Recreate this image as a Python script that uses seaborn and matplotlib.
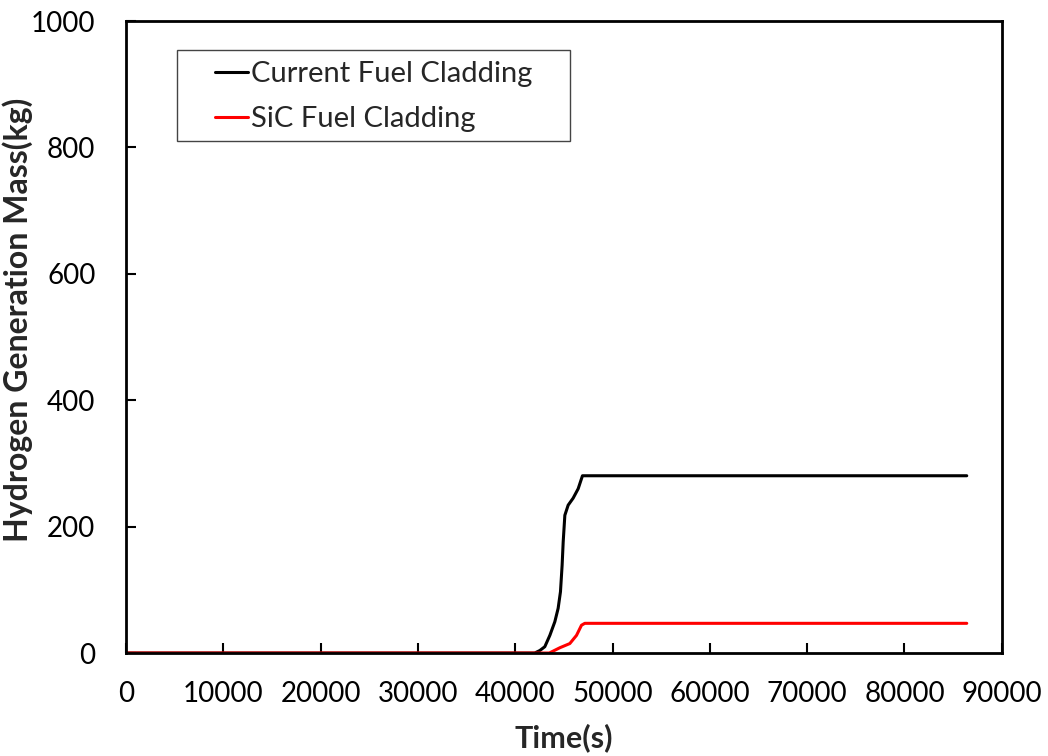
import numpy as np
import pandas as pd
import matplotlib
matplotlib.use('Agg')
import matplotlib.pyplot as plt
from matplotlib.patches import Rectangle
import seaborn as sns

# Hydrogen generation mass over time
time_current = [0, 42000, 42530, 43040, 43560, 44070, 44410, 44650, 44820, 44930,
                45100, 45440, 45950, 46470, 46910, 86400]
mass_current = [0, 0, 4, 10, 28, 49.5, 70.7, 97, 139, 176,
                218, 234, 245, 260, 280.5, 280.5]

time_sic = [0, 43500, 44590, 45610, 46300, 46810, 47150, 86400]
mass_sic = [0, 0, 8.4, 15, 28, 44, 47, 47]

labels = ['Current Fuel Cladding', 'SiC Fuel Cladding']

df = pd.concat([
    pd.DataFrame({'Time': time_current, 'Mass': mass_current, 'Case': labels[0]}),
    pd.DataFrame({'Time': time_sic, 'Mass': mass_sic, 'Case': labels[1]}),
], ignore_index=True)

sns.set_style('white')
plt.rcParams['font.family'] = ['Lato', 'DejaVu Sans']

fig = plt.figure(figsize=(10.48, 7.56), dpi=100)
ax = fig.add_axes([0.1202, 0.1362, 0.8357, 0.836])

sns.lineplot(data=df, x='Time', y='Mass', hue='Case', palette=['black', '#ff0000'],
             linewidth=2.2, ax=ax, estimator=None, sort=False)

ax.set_xlim(0, 90000)
ax.set_ylim(0, 1000)
ax.set_xticks(np.arange(0, 90001, 10000))
ax.set_yticks(np.arange(0, 1001, 200))
ax.tick_params(direction='in', length=7, width=1.5, labelsize=20, colors='black',
               bottom=True, left=True, top=False, right=False)
ax.tick_params(axis='x', pad=20)
ax.tick_params(axis='y', pad=22)
for s in ax.spines.values():
    s.set_color('black')
    s.set_linewidth(2)

ax.set_xlabel('Time(s)', fontsize=22, fontweight='bold', labelpad=12)
ax.set_ylabel('Hydrogen Generation Mass(kg)', fontsize=23, fontweight='bold')
ax.yaxis.set_label_coords(-0.106, 0.527)

# legend frame drawn separately (wide box, entries on the left)
ax.add_patch(Rectangle((0.0582, 0.8101), 0.4486, 0.144, transform=ax.transAxes,
                       fill=True, facecolor='white', edgecolor='#444444', linewidth=1, zorder=4))
leg = ax.legend(loc='upper left', bbox_to_anchor=(0.1016, 0.937), fontsize=21,
                handlelength=1.13, handletextpad=0.1, borderpad=0, borderaxespad=0,
                labelspacing=0.66, frameon=False)
leg.set_zorder(5)

fig.savefig('out.png', dpi=100)
